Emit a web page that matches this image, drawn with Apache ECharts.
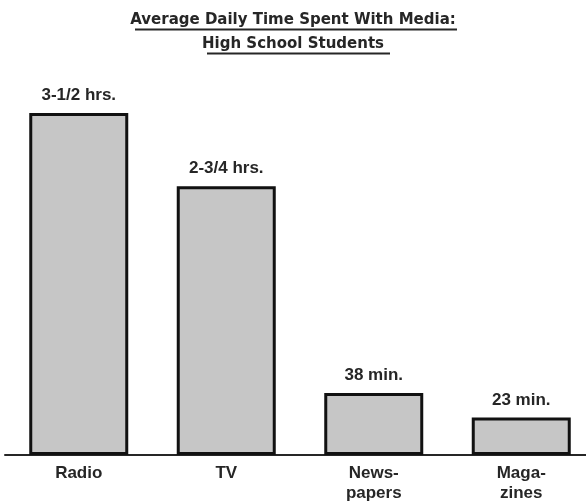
<!DOCTYPE html>
<html>
<head>
<meta charset="utf-8">
<script src="https://cdn.jsdelivr.net/npm/echarts@6/dist/echarts.min.js"></script>
<style>
  html, body { margin: 0; padding: 0; background: #fff; }
  #chart { width: 586px; height: 504px; }
</style>
</head>
<body>
<div id="chart"></div>
<script>
// media categories and average daily minutes
const categories = ['Radio', 'TV', 'News-\npapers', 'Maga-\nzines']
const minutes = [210, 165, 38, 23]
const valueLabels = ['3-1/2 hrs.', '2-3/4 hrs.', '38 min.', '23 min.']

const chart = echarts.init(document.getElementById('chart'))
const ink = '#262626'
const font = 'Liberation Sans, Arial, sans-serif'
const titleFont = 'DejaVu Sans, sans-serif'

chart.setOption({
  animation: false,
  title: [
    {
      text: 'Average Daily Time Spent With Media:',
      left: 'center',
      top: 8,
      textStyle: { fontFamily: titleFont, fontSize: 15, fontWeight: 'bold', color: ink }
    },
    {
      text: 'High School Students',
      left: 'center',
      top: 32,
      textStyle: { fontFamily: titleFont, fontSize: 15, fontWeight: 'bold', color: ink }
    }
  ],
  // title underlines
  graphic: [
    { type: 'line', shape: { x1: 135, y1: 29.5, x2: 457, y2: 29.5 }, style: { stroke: ink, lineWidth: 2 } },
    { type: 'line', shape: { x1: 207, y1: 53.5, x2: 390, y2: 53.5 }, style: { stroke: ink, lineWidth: 2 } }
  ],
  // grid runs a little past the right edge, like the original
  grid: { left: 5, right: -9, top: 113, bottom: 49, outerBoundsMode: 'none' },
  xAxis: {
    type: 'category',
    data: categories,
    axisLine: { lineStyle: { color: ink, width: 2 } },
    axisTick: { show: false },
    axisLabel: {
      margin: 8,
      fontFamily: font,
      fontSize: 17,
      fontWeight: 'bold',
      color: ink,
      lineHeight: 20
    }
  },
  yAxis: {
    type: 'value',
    min: 0,
    max: 210,
    show: false
  },
  series: [{
    type: 'bar',
    data: minutes,
    barWidth: 99,
    itemStyle: {
      color: '#c6c6c6',
      borderColor: '#111',
      borderWidth: 3
    },
    label: {
      show: true,
      position: 'top',
      distance: 9,
      fontFamily: font,
      fontSize: 17,
      fontWeight: 'bold',
      color: ink,
      formatter: p => valueLabels[p.dataIndex]
    }
  }]
})
</script>
</body>
</html>
